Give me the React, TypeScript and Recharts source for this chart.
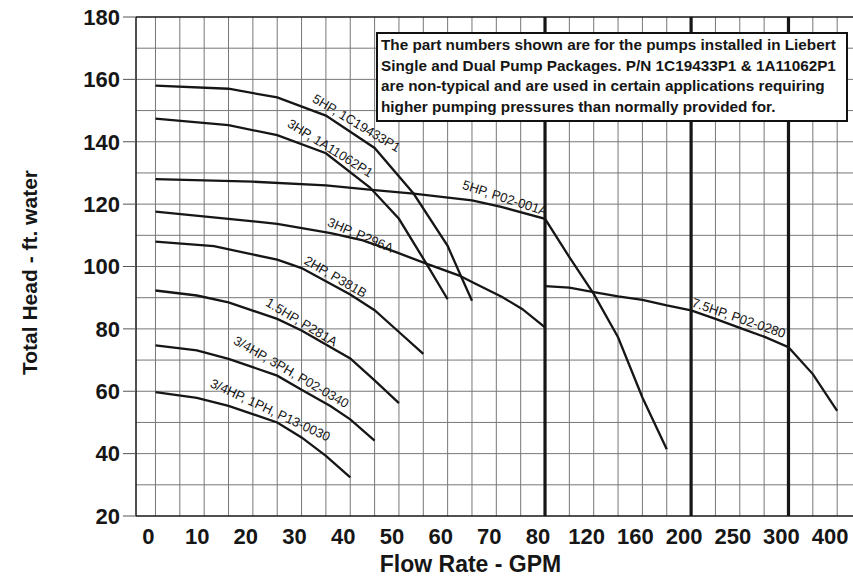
import React from "react";
import {
  LineChart,
  Line,
  XAxis,
  YAxis,
  ReferenceLine,
  ReferenceDot,
} from "recharts";

type Pt = [number, number]; // [flow GPM, head ft]

// the flow axis is broken into stretches with different scales
const flowBreaks = [0, 80, 200, 300, 400];
const gridBreaks = [0, 16, 22, 26, 28];

const flowTicks = [0, 10, 20, 30, 40, 50, 60, 70, 80, 120, 160, 200, 250, 300, 400];
const headTicks = [20, 40, 60, 80, 100, 120, 140, 160, 180];

const flowGrid = [
  0, 5, 10, 15, 20, 25, 30, 35, 40, 45, 50, 55, 60, 65, 70, 75,
  100, 120, 140, 160, 180, 225, 250, 275, 350, 400,
];
const flowHeavy = [80, 200, 300];
const headGrid = [30, 40, 50, 60, 70, 80, 90, 100, 110, 120, 130, 140, 150, 160, 170, 180];

const hp5_1C19433P1: Pt[] = [
  [0, 158], [15, 157], [25, 154.2], [35, 148.4], [45, 138], [53, 123.4],
  [60, 106.6], [63, 96], [65, 89],
];
const hp3_1A11062P1: Pt[] = [
  [0, 147.4], [15, 145.3], [25, 142.1], [35, 136.3], [44, 125.4], [50, 115.3],
  [55.6, 101], [60, 89.5],
];
const hp5_P02_001A: Pt[] = [
  [0, 128], [20, 127.2], [35, 126], [45, 124.5], [53, 123.4], [65, 121.2],
  [71, 119.1], [80, 115.3], [100, 103], [120, 91.2], [140, 77.3], [160, 58],
  [180, 41.4],
];
const hp3_P296A: Pt[] = [
  [0, 117.6], [15, 115.3], [25, 113.7], [36, 110.7], [42.6, 108.4],
  [49.4, 104.6], [55.6, 100.9], [62.4, 97.1], [65, 95], [71.2, 90.2],
  [75.3, 86.4], [80, 80.5],
];
const hp2_P381B: Pt[] = [
  [0, 108], [12, 106.5], [25, 102.2], [30, 99.5], [40, 91], [45, 86],
  [50, 79], [55, 72],
];
const hp15_P281A: Pt[] = [
  [0, 92.3], [8.5, 90.7], [15, 88.5], [25, 83.2], [30, 79.5], [40, 70.5],
  [45, 63.5], [50, 56.2],
];
const hp34_3PH_P02_0340: Pt[] = [
  [0, 74.7], [8.5, 73.1], [15, 70.4], [25, 65], [30, 60.5], [36, 55.2],
  [40, 51], [45, 44.2],
];
const hp34_1PH_P13_0030: Pt[] = [
  [0, 59.7], [8.5, 57.9], [15, 55.3], [25, 50], [30, 45.2], [35, 39.3],
  [40, 32.4],
];
const hp75_P02_0280: Pt[] = [
  [80, 93.7], [100, 93.2], [120, 91.8], [140, 90.4], [160, 89.3], [180, 87.5],
  [200, 85.9], [225, 83.2], [250, 80.3], [275, 77.5], [300, 74.1],
  [350, 65.5], [400, 53.7],
];

const curves: Pt[][] = [
  hp5_1C19433P1,
  hp3_1A11062P1,
  hp5_P02_001A,
  hp3_P296A,
  hp2_P381B,
  hp15_P281A,
  hp34_3PH_P02_0340,
  hp34_1PH_P13_0030,
  hp75_P02_0280,
];

const curveNames = [
  "5HP, 1C19433P1",
  "3HP, 1A11062P1",
  "5HP, P02-001A",
  "3HP, P296A",
  "2HP, P381B",
  "1.5HP, P281A",
  "3/4HP, 3PH, P02-0340",
  "3/4HP, 1PH, P13-0030",
  "7.5HP, P02-0280",
];
// where each name sits: [flow, head, angle]
const nameSpots: [number, number, number][] = [
  [41.3, 146, 31],
  [35.9, 138, 32],
  [71.8, 122, 18],
  [42.1, 110.1, 23],
  [37, 96.7, 30],
  [30, 82.2, 31],
  [27.9, 66.2, 30],
  [23.6, 54, 25],
  [249, 83.5, 19],
];

const note = [
  "The part numbers shown are for the pumps installed in Liebert",
  "Single and Dual Pump Packages. P/N 1C19433P1 & 1A11062P1",
  "are non-typical and are used in certain applications requiring",
  "higher pumping pressures than normally provided for.",
];

function toPos(gpm: number): number {
  for (let i = 1; i < flowBreaks.length; i++) {
    if (gpm <= flowBreaks[i] || i === flowBreaks.length - 1) {
      const f = (gpm - flowBreaks[i - 1]) / (flowBreaks[i] - flowBreaks[i - 1]);
      return gridBreaks[i - 1] + f * (gridBreaks[i] - gridBreaks[i - 1]);
    }
  }
  return 0;
}

const FONT = "'Liberation Sans', Arial, Helvetica, sans-serif";
const INK = "#161616";

const tickLabel: Record<number, string> = {};
flowTicks.forEach((t) => (tickLabel[toPos(t)] = String(t)));

export default function App() {
  return (
    <div style={{ position: "absolute", left: 0, top: 0, width: 853, height: 578, background: "#fff" }}>
      <LineChart
        width={853}
        height={578}
        margin={{ top: 17, right: 0, left: 0, bottom: 0 }}
        style={{ fontFamily: FONT }}
      >
        <XAxis
          dataKey="x"
          type="number"
          domain={[-0.8, 28.65]}
          allowDataOverflow
          ticks={flowTicks.map(toPos)}
          interval={0}
          tickFormatter={(v: number) => tickLabel[v] ?? ""}
          tickLine={false}
          tickMargin={6}
          height={62}
          axisLine={{ stroke: INK, strokeWidth: 1.5 }}
          tick={{ fill: INK, fontSize: 22, fontWeight: "bold", dx: -7 }}
          label={{
            value: "Flow Rate - GPM",
            position: "insideBottom",
            offset: 6,
            dx: -24,
            style: { fill: INK, fontSize: 23, fontWeight: "bold" },
          }}
        />
        <YAxis
          type="number"
          domain={[20, 180]}
          allowDataOverflow
          ticks={headTicks}
          interval={0}
          width={136}
          tickSize={13}
          tickMargin={3}
          tickLine={{ stroke: "#555" }}
          axisLine={{ stroke: INK, strokeWidth: 1.5 }}
          tick={{ fill: INK, fontSize: 22, fontWeight: "bold" }}
          label={{
            value: "Total Head - ft. water",
            angle: -90,
            position: "insideLeft",
            offset: 30,
            dy: 6,
            style: { textAnchor: "middle", fill: INK, fontSize: 21, fontWeight: "bold" },
          }}
        />
        {flowGrid.map((g) => (
          <ReferenceLine key={"v" + g} x={toPos(g)} stroke="#777" strokeWidth={1} />
        ))}
        {headGrid.map((h) => (
          <ReferenceLine key={"h" + h} y={h} stroke={h === 180 ? INK : "#777"} strokeWidth={h === 180 ? 1.5 : 1} />
        ))}
        {flowHeavy.map((g) => (
          <ReferenceLine key={"t" + g} x={toPos(g)} stroke={INK} strokeWidth={3.2} />
        ))}
        {curves.map((pts, i) => (
          <Line
            key={curveNames[i]}
            data={pts.map(([g, h]) => ({ x: toPos(g), head: h }))}
            dataKey="head"
            type="linear"
            stroke={INK}
            strokeWidth={2.3}
            dot={false}
            activeDot={false}
            isAnimationActive={false}
          />
        ))}
        {nameSpots.map(([g, h, a], i) => (
          <ReferenceDot
            key={"n" + i}
            x={toPos(g)}
            y={h}
            r={0}
            shape={(p: any) => (
              <text
                x={p.cx}
                y={p.cy}
                transform={`rotate(${a}, ${p.cx}, ${p.cy})`}
                textAnchor="middle"
                dominantBaseline="central"
                fontSize={13}
                fontFamily={FONT}
                fill={INK}
              >
                {curveNames[i]}
              </text>
            )}
          />
        ))}
      </LineChart>
      <div
        style={{
          position: "absolute",
          left: 376,
          top: 32,
          width: 465,
          height: 85,
          border: "2px solid #111",
          background: "#fff",
          padding: "1px 0 0 3px",
          fontFamily: FONT,
          fontWeight: "bold",
          fontSize: 15.3,
          lineHeight: "20.6px",
          color: INK,
          whiteSpace: "nowrap",
        }}
      >
        {note.map((l) => (
          <div key={l}>{l}</div>
        ))}
      </div>
    </div>
  );
}
